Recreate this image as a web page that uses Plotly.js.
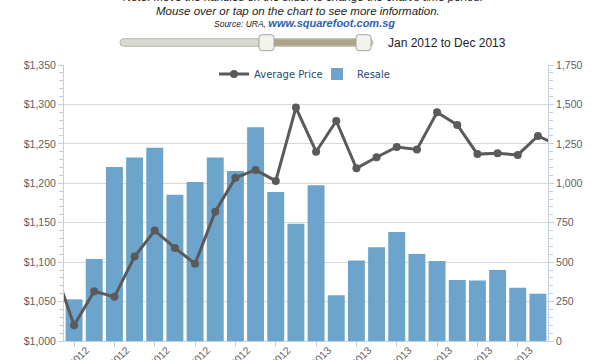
<!DOCTYPE html>
<html>
<head>
<meta charset="utf-8">
<script src="https://cdn.plot.ly/plotly-3.0.1.min.js"></script>
<style>
html,body{margin:0;padding:0;background:#fff;}
#chart{width:606px;height:360px;}
</style>
</head>
<body>
<div id="chart"></div>
<script>
// Months (first and last entries lie outside the visible Jan 2012 - Dec 2013 window)
var months = ["Dec 2011",
  "Jan 2012","Feb 2012","Mar 2012","Apr 2012","May 2012","Jun 2012",
  "Jul 2012","Aug 2012","Sep 2012","Oct 2012","Nov 2012","Dec 2012",
  "Jan 2013","Feb 2013","Mar 2013","Apr 2013","May 2013","Jun 2013",
  "Jul 2013","Aug 2013","Sep 2013","Oct 2013","Nov 2013","Dec 2013",
  "Jan 2014"];
// Resale transactions (right axis)
var resale = [null,
  264, 520, 1103, 1163, 1226, 928,
  1008, 1163, 1078, 1355, 945, 744,
  987, 290, 510, 594, 691, 552,
  507, 387, 383, 450, 338, 300,
  null];
// Average price, $ psf (left axis)
var avgPrice = [1094,
  1020, 1063, 1056, 1107, 1140, 1118,
  1098, 1164, 1207, 1217, 1203, 1296,
  1240, 1279, 1219, 1233, 1246, 1243,
  1290, 1274, 1237, 1238, 1236, 1260,
  1248];
var seriesNames = ["Average Price", "Resale"];
var noteLines = [
  "Note: Move the handles on the slider to change the chart's time period.",
  "Mouse over or tap on the chart to see more information."
];
var sourceLabel = "Source: URA, ";
var sourceLink = "www.squarefoot.com.sg";
var periodLabel = "Jan 2012 to Dec 2013";

var idx = months.map(function(_, i){ return i; });
var tickVals = [], tickText = [];
for (var i = 1; i <= 24; i += 2) { tickVals.push(i); tickText.push(months[i]); }

// plot area in pixels
var L = 64, R = 548, T = 65, B = 341;
function px(x){ return (x - L) / (R - L); }
function py(y){ return (B - y) / (B - T); }
function rr(x0, y0, x1, y1, r){
  function p(x, y){ return px(x) + "," + py(y); }
  return "M" + p(x0 + r, y0) + " L" + p(x1 - r, y0) + " Q" + p(x1, y0) + " " + p(x1, y0 + r) +
    " L" + p(x1, y1 - r) + " Q" + p(x1, y1) + " " + p(x1 - r, y1) +
    " L" + p(x0 + r, y1) + " Q" + p(x0, y1) + " " + p(x0, y1 - r) +
    " L" + p(x0, y0 + r) + " Q" + p(x0, y0) + " " + p(x0 + r, y0) + " Z";
}

var axisFont = {family: "Liberation Sans, Arial, sans-serif", size: 10.5, color: "#606060"};

var traces = [
  {
    type: "bar", name: seriesNames[1], x: idx, y: resale, yaxis: "y",
    marker: {color: "#6ca4cb", line: {width: 0}},
    legendrank: 2, hoverinfo: "x+y"
  },
  {
    type: "scatter", mode: "lines+markers", name: seriesNames[0], x: idx, y: avgPrice, yaxis: "y2",
    line: {color: "#5a5a5a", width: 3},
    marker: {color: "#5a5a5a", size: 8, symbol: "circle"},
    legendrank: 1
  }
];

var layout = {
  width: 606, height: 360,
  margin: {l: L, r: 606 - R, t: T, b: 360 - B, pad: 0},
  paper_bgcolor: "#fff", plot_bgcolor: "#fff",
  font: {family: "Liberation Sans, Arial, sans-serif"},
  bargap: 0.16,
  showlegend: true,
  legend: {
    orientation: "h", x: px(214), xanchor: "left", y: py(74), yanchor: "middle",
    bgcolor: "rgba(0,0,0,0)", itemwidth: 30, entrywidth: 58, entrywidthmode: "pixels",
    font: {family: "DejaVu Sans, sans-serif", size: 10, color: "#274b6d"}
  },
  xaxis: {
    range: [0.5, 24.5], tickmode: "array", tickvals: tickVals, ticktext: tickText,
    tickangle: -45, tickfont: axisFont, ticks: "outside", ticklen: 5, tickcolor: "#c0d0e0",
    showline: true, linecolor: "#c0d0e0", linewidth: 1, showgrid: false, zeroline: false,
    automargin: false, ticklabelshift: 12, ticklabelstandoff: -7, fixedrange: true
  },
  yaxis: {
    side: "right", range: [0, 1750], dtick: 250, tickformat: ",d",
    tickfont: axisFont, ticks: "outside", ticklen: 5, tickcolor: "#c0d0e0",
    minor: {dtick: 50, ticks: "outside", ticklen: 4, tickcolor: "#c0d0e0", showgrid: false},
    showline: true, linecolor: "#c0d0e0", gridcolor: "#d8d8d8", gridwidth: 1,
    zeroline: false, automargin: false, fixedrange: true
  },
  yaxis2: {
    overlaying: "y", side: "left", range: [1000, 1350], dtick: 50, tickformat: ",d", tickprefix: "$",
    tickfont: axisFont, ticks: "outside", ticklen: 5, tickcolor: "#c0d0e0",
    minor: {dtick: 10, ticks: "outside", ticklen: 4, tickcolor: "#c0d0e0", showgrid: false},
    showline: true, linecolor: "#c0d0e0", showgrid: false,
    zeroline: false, automargin: false, fixedrange: true
  },
  shapes: [
    {type: "path", xref: "paper", yref: "paper", path: rr(120, 38.7, 373, 46.3, 3.8),
     fillcolor: "#d8d8ce", line: {color: "#b8b8ac", width: 1}, layer: "above"},
    {type: "path", xref: "paper", yref: "paper", path: rr(266, 39.3, 364, 45.7, 1),
     fillcolor: "#aca58a", line: {width: 0}, layer: "above"},
    {type: "path", xref: "paper", yref: "paper", path: rr(259, 34.7, 274, 50.7, 3),
     fillcolor: "#f3f3ee", line: {color: "#a4a49c", width: 1}, layer: "above"},
    {type: "path", xref: "paper", yref: "paper", path: rr(356, 34.7, 371, 50.7, 3),
     fillcolor: "#f3f3ee", line: {color: "#a4a49c", width: 1}, layer: "above"}
  ],
  annotations: [
    {xref: "paper", yref: "paper", x: px(303), y: py(-2.5), xanchor: "center", yanchor: "middle",
     showarrow: false, text: "<i>" + noteLines[0] + "</i>",
     font: {family: "Liberation Sans, Arial, sans-serif", size: 11.5, color: "#222"}},
    {xref: "paper", yref: "paper", x: px(298), y: py(11), xanchor: "center", yanchor: "middle",
     showarrow: false, text: "<i>" + noteLines[1] + "</i>",
     font: {family: "Liberation Sans, Arial, sans-serif", size: 11.5, color: "#222"}},
    {xref: "paper", yref: "paper", x: px(304), y: py(22.5), xanchor: "center", yanchor: "middle",
     showarrow: false,
     text: "<i><span style='font-size:8.5px'>" + sourceLabel + "</span><b><span style='color:#2d5fb3'>" + sourceLink + "</span></b></i>",
     font: {family: "Liberation Sans, Arial, sans-serif", size: 11, color: "#222"}},
    {xref: "paper", yref: "paper", x: px(386), y: py(43), xanchor: "left", yanchor: "middle",
     showarrow: false, text: periodLabel,
     font: {family: "Liberation Sans, Arial, sans-serif", size: 12, color: "#222"}}
  ]
};

Plotly.newPlot("chart", traces, layout, {displayModeBar: false, responsive: false});
</script>
</body>
</html>
